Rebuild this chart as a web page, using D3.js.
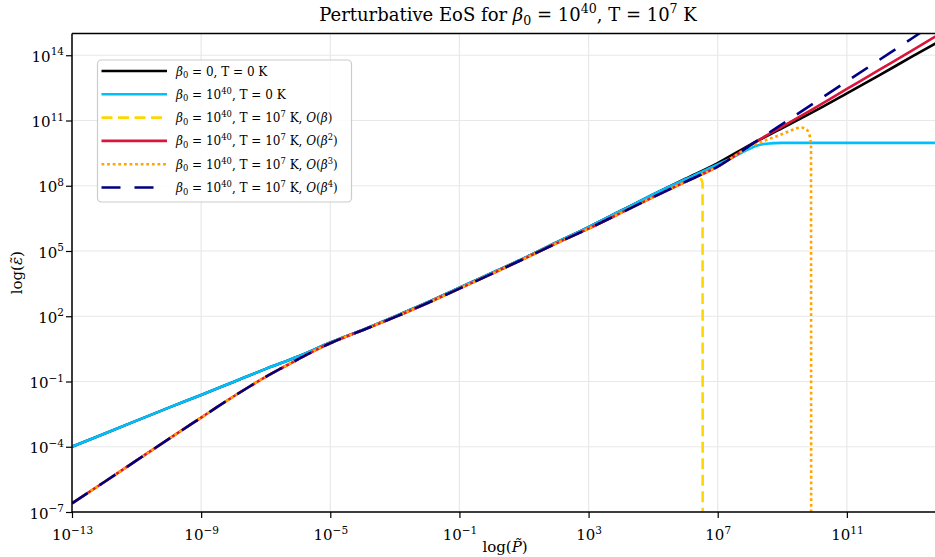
<!DOCTYPE html>
<html>
<head>
<meta charset="utf-8">
<script src="https://cdn.jsdelivr.net/npm/d3@7"></script>
<style>
  html, body { margin: 0; padding: 0; background: #fff; overflow: hidden; }
  svg { display: block; font-family: "DejaVu Serif", serif; }
</style>
</head>
<body>
<svg id="chart" width="935" height="557"></svg>
<script>
// ---- Data (log10 values) ----
const xTickExp = [-13, -9, -5, -1, 3, 7, 11];
const yTickExp = [-7, -4, -1, 2, 5, 8, 11, 14];

// beta0 = 0, T = 0 K
const blackLogP = [-13,-12,-11,-10,-9,-8,-7,-6,-5,-4,-3,-2,-1,0,1,2,3,4,5,6,7,8,9,10,11,12,13,13.9];
const blackLogE = [-4.0,-3.4,-2.8,-2.2,-1.62,-1.02,-0.42,0.15,0.79,1.37,1.99,2.63,3.31,3.99,4.67,5.4,6.1,6.85,7.6,8.32,9.04,9.88,10.65,11.43,12.25,13.08,13.92,14.67];

// beta0 = 1e40, T = 0 K
const cyanLogP = [-13,-12,-11,-10,-9,-8,-7,-6,-5,-4,-3,-2,-1,0,1,2,3,4,5,6,6.5,7,7.5,7.9,8.2,8.5,9,10,11,12,13,13.9];
const cyanLogE = [-4.0,-3.4,-2.8,-2.2,-1.62,-1.02,-0.42,0.15,0.79,1.37,1.99,2.63,3.31,3.99,4.67,5.4,6.1,6.85,7.6,8.3,8.63,8.98,9.33,9.64,9.84,9.93,9.97,9.97,9.97,9.97,9.97,9.97];

// shared low-pressure branch of the T = 1e7 K perturbative curves
const hotLogP = [-13,-12,-11,-10,-9,-8.5,-8,-7.5,-7,-6.5,-6,-5.5,-5,-4.5,-4,-3,-2,-1,0,1,2,3,4,5,6];
const hotLogE = [-6.60,-5.62,-4.63,-3.64,-2.66,-2.17,-1.69,-1.23,-0.79,-0.38,0.02,0.41,0.76,1.07,1.36,1.96,2.6,3.27,3.95,4.64,5.35,6.03,6.75,7.48,8.18];

// O(beta) tail
const o1LogP = [6.2,6.4,6.5,6.53,6.535];
const o1LogE = [8.31,8.33,8.27,8.1,-12];
// O(beta^2) tail
const o2LogP = [6.5,7,7.5,8,8.5,9,10,11,12,13,13.9];
const o2LogE = [8.52,8.88,9.35,9.85,10.3,10.72,11.57,12.45,13.33,14.2,15.0];
// O(beta^3) tail
const o3LogP = [6.5,7,7.5,8,8.5,9,9.3,9.57,9.72,9.82,9.87,9.89,9.895];
const o3LogE = [8.52,8.88,9.35,9.8,10.1,10.38,10.56,10.68,10.62,10.42,10.12,9.8,-12];
// O(beta^4) tail
const o4LogP = [6.5,7,7.5,8,8.5,9,10,11,12,13,13.9];
const o4LogE = [8.52,8.88,9.35,9.85,10.35,10.84,11.82,12.8,13.78,14.76,15.65];

const toPts = (lp, le) => lp.map((p, i) => ({ x: Math.pow(10, p), y: Math.pow(10, le[i]) }));

const hotLabel = n => [["β", "i"], ["0", "sub"], [" = 10", ""], ["40", "sup"], [", T = 10", ""], ["7", "sup"], [" K, ", ""], ["O", "i"], ["(", ""], ["β", "i"]]
  .concat(n ? [[n, "sup"]] : []).concat([[")", ""]]);

const series = [
  { pts: toPts(blackLogP, blackLogE), color: "#000000", dash: null, label: [["β", "i"], ["0", "sub"], [" = 0, T = 0 K", ""]] },
  { pts: toPts(cyanLogP, cyanLogE), color: "#00BFFF", dash: null, label: [["β", "i"], ["0", "sub"], [" = 10", ""], ["40", "sup"], [", T = 0 K", ""]] },
  { pts: toPts(hotLogP.concat(o1LogP), hotLogE.concat(o1LogE)), color: "#FFD700", dash: "11,5.5", label: hotLabel("") },
  { pts: toPts(hotLogP.concat(o2LogP), hotLogE.concat(o2LogE)), color: "#DC143C", dash: null, label: hotLabel("2") },
  { pts: toPts(hotLogP.concat(o3LogP), hotLogE.concat(o3LogE)), color: "#FFA500", dash: "2.8,2.8", label: hotLabel("3") },
  { pts: toPts(hotLogP.concat(o4LogP), hotLogE.concat(o4LogE)), color: "#000080", dash: "19,14", label: hotLabel("4") }
];

// ---- Layout ----
const L = 72, R = 935, T = 33.5, B = 512;
const svg = d3.select("#chart");

const x = d3.scaleLog().domain([1e-13, Math.pow(10, 13.73)]).range([L, R]);
const y = d3.scaleLog().domain([1e-7, 1e15]).range([B, T]);

// rich text helper: parts [text, kind]; kind "", "i", "sup", "sub"
function rich(txt, parts, fs) {
  let pending = 0;
  parts.forEach(([t, k]) => {
    const ts = txt.append("tspan").text(t);
    let dy = pending;
    pending = 0;
    if (k === "i") ts.attr("font-style", "italic");
    if (k === "sup") { dy += -0.42 * fs; pending = 0.42 * fs; ts.attr("font-size", (fs * 0.7) + "px"); }
    if (k === "sub") { dy += 0.22 * fs; pending = -0.22 * fs; ts.attr("font-size", (fs * 0.7) + "px"); }
    if (dy !== 0) ts.attr("dy", dy);
  });
}

// clip
svg.append("defs").append("clipPath").attr("id", "plotclip")
  .append("rect").attr("x", L).attr("y", T).attr("width", R - L + 10).attr("height", B - T);

// grid
const grid = svg.append("g");
xTickExp.forEach(e => {
  grid.append("line").attr("x1", x(Math.pow(10, e))).attr("x2", x(Math.pow(10, e)))
    .attr("y1", T).attr("y2", B).attr("stroke", "#e8e8e8").attr("stroke-width", 1.2);
});
yTickExp.forEach(e => {
  grid.append("line").attr("x1", L).attr("x2", R + 10)
    .attr("y1", y(Math.pow(10, e))).attr("y2", y(Math.pow(10, e))).attr("stroke", "#e8e8e8").attr("stroke-width", 1.2);
});

// lines
const line = d3.line().x(d => x(d.x)).y(d => y(d.y)).curve(d3.curveMonotoneX);
const lg = svg.append("g").attr("clip-path", "url(#plotclip)");
series.forEach(s => {
  const p = lg.append("path").datum(s.pts).attr("d", line)
    .attr("fill", "none").attr("stroke", s.color).attr("stroke-width", 2.6)
    .attr("stroke-linejoin", "round");
  if (s.dash) p.attr("stroke-dasharray", s.dash).attr("stroke-linecap", "butt");
});

// axes
const expStr = e => (e < 0 ? "\u2212" + Math.abs(e) : String(e));
const xAxis = d3.axisBottom(x).tickValues(xTickExp.map(e => Math.pow(10, e))).tickSize(6).tickPadding(5).tickFormat(() => "");
const gx = svg.append("g").attr("transform", `translate(0,${B})`).call(xAxis);
gx.select(".domain").remove();
gx.selectAll(".tick line").attr("stroke", "#000").attr("stroke-width", 1.2);
gx.selectAll(".tick text").remove();
gx.selectAll(".tick").each(function(d) {
  const e = Math.round(Math.log10(d));
  const t = d3.select(this).append("text").attr("y", 28).attr("text-anchor", "middle")
    .attr("font-size", "15px").attr("font-family", "DejaVu Serif").attr("fill", "#000");
  rich(t, [["10", ""], [expStr(e), "sup"]], 15);
});

const yAxis = d3.axisLeft(y).tickValues(yTickExp.map(e => Math.pow(10, e))).tickSize(6).tickPadding(4).tickFormat(() => "");
const gy = svg.append("g").attr("transform", `translate(${L},0)`).call(yAxis);
gy.select(".domain").remove();
gy.selectAll(".tick line").attr("stroke", "#000").attr("stroke-width", 1.2);
gy.selectAll(".tick text").remove();
gy.selectAll(".tick").each(function(d) {
  const e = Math.round(Math.log10(d));
  const t = d3.select(this).append("text").attr("x", -8).attr("y", 6).attr("text-anchor", "end")
    .attr("font-size", "15px").attr("font-family", "DejaVu Serif").attr("fill", "#000");
  rich(t, [["10", ""], [expStr(e), "sup"]], 15);
});

// spines
svg.append("line").attr("x1", L).attr("x2", L).attr("y1", T).attr("y2", B).attr("stroke", "#000").attr("stroke-width", 1.5);
svg.append("line").attr("x1", L).attr("x2", R + 5).attr("y1", B).attr("y2", B).attr("stroke", "#000").attr("stroke-width", 1.5);
svg.append("line").attr("x1", L).attr("x2", R + 5).attr("y1", T).attr("y2", T).attr("stroke", "#000").attr("stroke-width", 1.5);

// axis labels
const xl = svg.append("text").attr("x", 505).attr("y", 552).attr("text-anchor", "middle").attr("font-size", "15px");
rich(xl, [["log(", ""], ["P\u0303", "i"], [")", ""]], 15);

const yl = svg.append("text").attr("transform", `translate(22,${(T + B) / 2}) rotate(-90)`)
  .attr("text-anchor", "middle").attr("font-size", "15px");
rich(yl, [["log(", ""], ["\u03B5\u0303", "i"], [")", ""]], 15);

// title
const title = svg.append("text").attr("x", 508).attr("y", 21).attr("text-anchor", "middle").attr("font-size", "18px");
rich(title, [["Perturbative EoS for ", ""], ["β", "i"], ["0", "sub"], [" = 10", ""], ["40", "sup"], [", T = 10", ""], ["7", "sup"], [" K", ""]], 18);

// legend
const lgd = svg.append("g");
lgd.append("rect").attr("x", 97.5).attr("y", 60).attr("width", 254).attr("height", 142)
  .attr("rx", 4).attr("fill", "#fff").attr("fill-opacity", 0.85).attr("stroke", "#cccccc").attr("stroke-width", 1.2);
series.forEach((s, i) => {
  const yy = 71 + i * 23.3;
  const l = lgd.append("line").attr("x1", 101.5).attr("x2", 167).attr("y1", yy).attr("y2", yy)
    .attr("stroke", s.color).attr("stroke-width", 2.6);
  if (s.dash) l.attr("stroke-dasharray", s.dash);
  const t = lgd.append("text").attr("x", 176).attr("y", yy + 4.5).attr("font-size", "12px");
  rich(t, s.label, 12);
});
</script>
</body>
</html>
